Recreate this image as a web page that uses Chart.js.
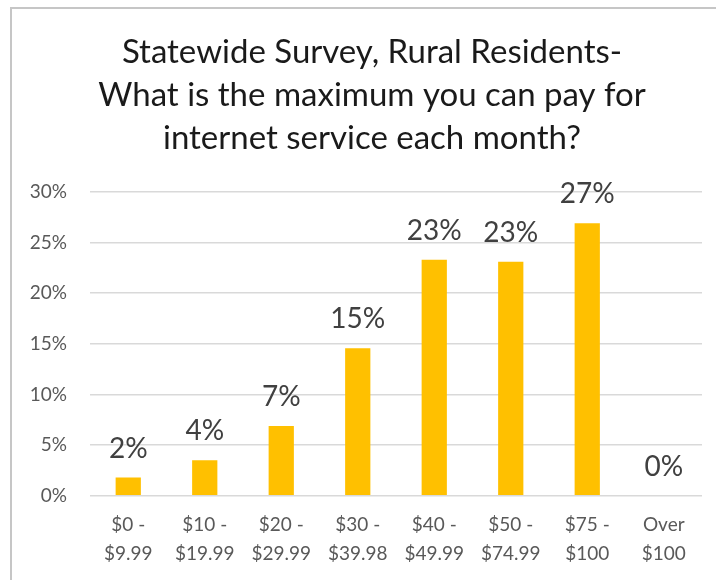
<!DOCTYPE html>
<html>
<head>
<meta charset="utf-8">
<script src="https://cdn.jsdelivr.net/npm/chart.js@4.4.1/dist/chart.umd.min.js"></script>
<style>
    html, body { margin: 0; padding: 0; background: #fff; }
    #frame { position: absolute; left: 10px; top: 7px; width: 706px; height: 573px; border-top: 2px solid #c6c6c6; border-left: 2px solid #c6c6c6; box-sizing: border-box; }
    #wrap { position: absolute; left: 0; top: 0; width: 716px; height: 580px; }
</style>
</head>
<body>
<div id="frame"></div>
<div id="wrap"><canvas id="priceChart"></canvas></div>
<script>
const titleLines = ['Statewide Survey, Rural Residents-', 'What is the maximum you can pay for', 'internet service each month?'];
const categories = [['$0 -', '$9.99'], ['$10 -', '$19.99'], ['$20 -', '$29.99'], ['$30 -', '$39.98'], ['$40 -', '$49.99'], ['$50 -', '$74.99'], ['$75 -', '$100'], ['Over', '$100']];
const shares = [1.8, 3.5, 6.9, 14.55, 23.3, 23.1, 26.9, 0];
const yTicks = [0, 5, 10, 15, 20, 25, 30];

const FONT = 'Lato, "Open Sans", sans-serif';

// draws the rounded % above every bar
const valueLabels = {
    id: 'valueLabels',
    afterDatasetsDraw(chart) {
        const ctx = chart.ctx;
        const meta = chart.getDatasetMeta(0);
        ctx.save();
        ctx.font = '28px ' + FONT;
        ctx.fillStyle = '#404040';
        ctx.textAlign = 'center';
        ctx.textBaseline = 'bottom';
        meta.data.forEach((bar, i) => {
            ctx.fillText(Math.round(shares[i]) + '%', bar.x, bar.y - 15);
        });
        ctx.restore();
    }
};

// title sits a bit right of the canvas centre in the original
const nudgeTitle = {
    id: 'nudgeTitle',
    afterLayout(chart) {
        if (chart.titleBlock) chart.titleBlock.left += 28;
    }
};

new Chart(document.getElementById('priceChart'), {
    type: 'bar',
    data: {
        labels: categories,
        datasets: [{
            data: shares,
            backgroundColor: '#FFC000',
            barPercentage: 0.33,
            categoryPercentage: 1
        }]
    },
    options: {
        responsive: true,
        maintainAspectRatio: false,
        animation: false,
        layout: { padding: { left: 14, right: 14, top: 31, bottom: 6 } },
        plugins: {
            legend: { display: false },
            tooltip: { enabled: false },
            title: {
                display: true,
                text: titleLines,
                color: '#1a1a1a',
                font: { family: FONT, size: 33, weight: 'normal', lineHeight: 1.3 },
                padding: { top: 0, bottom: 32 }
            }
        },
        scales: {
            x: {
                grid: { display: false },
                border: { display: false },
                ticks: {
                    color: '#595959',
                    font: { family: FONT, size: 19, lineHeight: 1.53 },
                    maxRotation: 0,
                    autoSkip: false,
                    padding: 6
                }
            },
            y: {
                min: 0,
                max: 30,
                afterFit(scale) { scale.width = 76; },
                afterBuildTicks(scale) { scale.ticks = yTicks.map(v => ({ value: v })); },
                grid: { color: '#d9d9d9', lineWidth: 1.5, drawTicks: false },
                border: { display: false },
                ticks: {
                    color: '#595959',
                    font: { family: FONT, size: 19 },
                    padding: 23,
                    callback: v => v + '%'
                }
            }
        }
    },
    plugins: [valueLabels, nudgeTitle]
});
</script>
</body>
</html>
